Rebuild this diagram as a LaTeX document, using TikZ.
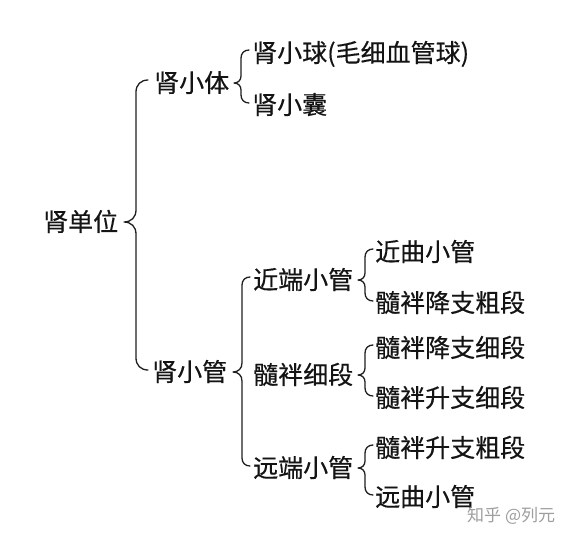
\documentclass[tikz,border=0pt]{standalone}
\usepackage{fontspec}
\newfontfamily\cjk[FakeBold=0.4]{Noto Sans CJK SC}
\newfontfamily\cjkwm{Noto Sans CJK SC}
\usetikzlibrary{calc}
\tikzset{
  lbl/.style={font=\cjk\fontsize{25}{25}\selectfont, anchor=west, inner sep=0pt,
              text height=21pt, text depth=3pt, text=black!92},
  wm/.style={font=\cjkwm\fontsize{17}{17}\selectfont, anchor=west, inner sep=0pt,
             text=black!38},
  brc/.style={line width=1.3pt, black!88, line cap=round, line join=round},
}
% #1 parent, #2 top child, #3 bottom child, #4 gap, #5 curl, #6 tip
\newcommand\kbrace[6]{%
  \draw[brc] let \p1=(#2.west), \p2=(#3.west), \p3=(#1.east) in
   ({\x1-#4pt},{\y1+3pt})
   .. controls ({\x1-#4pt-0.6*#5pt},{\y1+3pt}) and ({\x1-#4pt-#5pt},{\y1+3pt-0.4*#5pt}) ..
   ({\x1-#4pt-#5pt},{\y1+3pt-#5pt})
   -- ({\x1-#4pt-#5pt},{\y3+#6pt})
   .. controls ({\x1-#4pt-#5pt},{\y3+0.4*#6pt}) and ({\x1-#4pt-#5pt-0.4*#6pt},{\y3}) ..
   ({\x1-#4pt-#5pt-#6pt},{\y3})
   .. controls ({\x1-#4pt-#5pt-0.4*#6pt},{\y3}) and ({\x1-#4pt-#5pt},{\y3-0.4*#6pt}) ..
   ({\x1-#4pt-#5pt},{\y3-#6pt})
   -- ({\x1-#4pt-#5pt},{\y2+2pt+#5pt})
   .. controls ({\x1-#4pt-#5pt},{\y2+2pt+0.4*#5pt}) and ({\x1-#4pt-0.6*#5pt},{\y2+2pt}) ..
   ({\x1-#4pt},{\y2+2pt});
}
\begin{document}
\begin{tikzpicture}[x=1pt,y=-1pt]
  \fill[white] (0,0) rectangle (572,539);
  \useasboundingbox (0,0) rectangle (572,539);

  \node[lbl] (root) at (43,222) {肾单位};
  \node[lbl] (sxt) at (154,83) {肾小体};
  \node[lbl] (sxq) at (252,53) {肾小球(毛细血管球)};
  \node[lbl] (sxn) at (252,105) {肾小囊};
  \node[lbl] (sxg) at (152,372) {肾小管};
  \node[lbl] (jd) at (253,280) {近端小管};
  \node[lbl] (xd) at (253,375) {髓袢细段};
  \node[lbl] (yd) at (253,468) {远端小管};
  \node[lbl] (jq) at (375,252) {近曲小管};
  \node[lbl] (jcd) at (375,303) {髓袢降支粗段};
  \node[lbl] (jxd) at (375,348) {髓袢降支细段};
  \node[lbl] (sxd) at (375,398) {髓袢升支细段};
  \node[lbl] (scd) at (375,448) {髓袢升支粗段};
  \node[lbl] (yq) at (375,497) {远曲小管};
  \node[wm] (mark) at (467,516) {知乎 @列元};

  \kbrace{root}{sxt}{sxg}{6}{12}{12}
  \kbrace{sxt}{sxq}{sxn}{3}{8}{7}
  \kbrace{sxg}{jd}{yd}{3}{8}{9}
  \kbrace{jd}{jq}{jcd}{2}{8}{7}
  \kbrace{xd}{jxd}{sxd}{2}{8}{7}
  \kbrace{yd}{scd}{yq}{2}{8}{7}
\end{tikzpicture}
\end{document}
